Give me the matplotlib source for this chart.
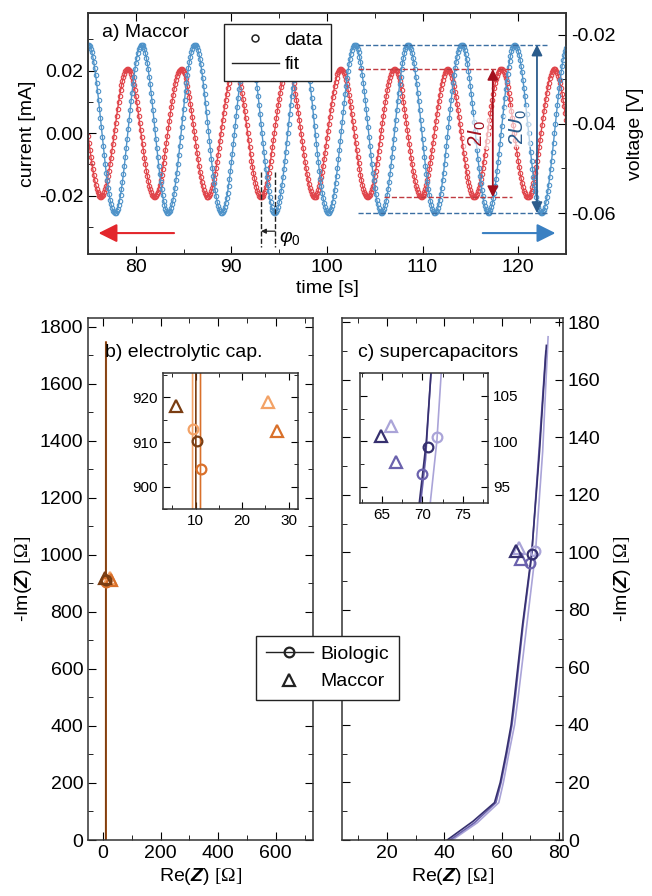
import numpy as np
import matplotlib
matplotlib.use("Agg")
import matplotlib.pyplot as plt
from matplotlib.ticker import MultipleLocator, FormatStrFormatter
from matplotlib.lines import Line2D

plt.rcParams["font.family"] = ["Liberation Sans", "DejaVu Sans"]
plt.rcParams["mathtext.fontset"] = "custom"
plt.rcParams["mathtext.rm"] = "Liberation Serif"
plt.rcParams["mathtext.sf"] = "Liberation Sans"
plt.rcParams["mathtext.it"] = "Liberation Sans:italic"
plt.rcParams["mathtext.bf"] = "Liberation Sans:bold:italic"
plt.rcParams["axes.unicode_minus"] = False
plt.rcParams["axes.linewidth"] = 1.1
plt.rcParams["axes.edgecolor"] = "#333333"

# ---- panel a: sine fit parameters ----
t_start, t_end, t_step = 75.0, 125.0, 0.1
period = 5.58
cur_amp, cur_peak_t = 0.0205, 79.15
volt_mid, volt_amp, volt_peak_t = -0.0411, 0.0189, 80.6

# ---- panel b: electrolytic cap. (Re, -Im) ----
b_line_im = [0, 1745]
b_line_re = {"dark": [9.9, 10.2], "mid": [10.9, 11.2], "light": [9.2, 9.5]}
b_circ = {"dark": (10.2, 910.2), "mid": (11.2, 904.0), "light": (9.45, 913.0)}
b_tri = {"dark": (5.8, 918.0), "mid": (27.5, 912.5), "light": (25.5, 919.0)}
b_cols = {"dark": "#7a3d12", "mid": "#d9702a", "light": "#f3a266"}

# ---- panel c: supercapacitors ----
c_line_re = {
    "dark": [41.0, 50.0, 57.5, 59.5, 61.5, 63.3, 64.5, 67.3, 70.5, 73.2, 75.6],
    "mid": [42.0, 50.5, 58.0, 59.8, 61.8, 63.6, 64.8, 67.5, 70.4, 73.0, 75.4],
    "light": [42.8, 51.5, 59.0, 60.6, 62.5, 64.5, 65.8, 68.8, 71.8, 74.3, 76.2],
}
c_line_im = {
    "dark": [0, 6.5, 13, 20, 30, 40, 50, 75, 100, 135, 172],
    "mid": [0, 6.0, 13, 20, 30, 40, 50, 75, 98, 135, 170],
    "light": [0, 6.0, 13, 20, 30, 40, 50, 75, 100, 135, 175],
}
c_circ = {"dark": (70.7, 99.4), "mid": (70.0, 96.4), "light": (71.8, 100.5)}
c_tri = {"dark": (64.9, 100.6), "mid": (66.8, 97.7), "light": (66.1, 101.7)}
c_cols = {"dark": "#36306f", "mid": "#6b62ad", "light": "#aaa4d8"}

red = "#e0444a"
blue = "#4f93c9"
FS = 14

fig = plt.figure(figsize=(6.52, 8.96), dpi=100)

# ================= panel a =================
ax = fig.add_axes([0.135, 0.7165, 0.733, 0.269])
ax2 = ax.twinx()
t = np.arange(t_start, t_end + 1e-9, t_step)
cur = cur_amp * np.cos(2 * np.pi * (t - cur_peak_t) / period)
volt = volt_mid + volt_amp * np.cos(2 * np.pi * (t - volt_peak_t) / period)
ax.plot(t, cur, color=red, lw=1.0, marker="o", ms=3.2, mfc="none", mew=0.8)
ax2.plot(t, volt, color=blue, lw=1.0, marker="o", ms=3.2, mfc="none", mew=0.8)

ax.set_xlim(75, 125)
ax.set_ylim(-0.0387, 0.0384)
ax2.set_ylim(-0.0692, -0.0151)
ax.xaxis.set_major_locator(MultipleLocator(10))
ax.xaxis.set_minor_locator(MultipleLocator(5))
ax.yaxis.set_major_locator(MultipleLocator(0.02))
ax.yaxis.set_minor_locator(MultipleLocator(0.01))
ax2.yaxis.set_major_locator(MultipleLocator(0.02))
ax2.yaxis.set_minor_locator(MultipleLocator(0.01))
ax.yaxis.set_major_formatter(FormatStrFormatter("%.2f"))
ax2.yaxis.set_major_formatter(FormatStrFormatter("%.2f"))
ax.tick_params(which="both", direction="in", top=True, labelsize=FS)
ax.tick_params(which="major", length=6)
ax.tick_params(which="minor", length=3.5)
ax2.tick_params(which="both", direction="in", labelsize=FS)
ax2.tick_params(which="major", length=6)
ax2.tick_params(which="minor", length=3.5)
ax.set_xlabel("time [s]", fontsize=FS, labelpad=3)
ax.set_ylabel("current [mA]", fontsize=FS, labelpad=2)
ax2.set_ylabel("voltage [V]", fontsize=FS, labelpad=8)

ax2.text(0.03, 0.92, "a) Maccor", transform=ax.transAxes, fontsize=FS,
         va="center", ha="left")

cT = ax.transData
# amplitude guides
ax2.plot([103.2, 119.35], [cur_amp, cur_amp], ls="--", lw=1.0, color="#c03a40", transform=cT)
ax2.plot([106.0, 119.35], [-cur_amp, -cur_amp], ls="--", lw=1.0, color="#c03a40", transform=cT)
ax2.plot([103.2, 123.0], [volt_mid + volt_amp] * 2, ls="--", lw=1.0, color="#3b6fa3")
ax2.plot([103.2, 123.0], [volt_mid - volt_amp] * 2, ls="--", lw=1.0, color="#3b6fa3")
ax2.annotate("", xy=(117.35, cur_amp), xytext=(117.35, -cur_amp), xycoords=cT, textcoords=cT,
             arrowprops=dict(arrowstyle="<|-|>", color="#a3101e", lw=1.3,
                             mutation_scale=16, shrinkA=0, shrinkB=0))
ax2.annotate("", xy=(121.97, volt_mid + volt_amp), xytext=(121.97, volt_mid - volt_amp),
             arrowprops=dict(arrowstyle="<|-|>", color="#2b5c8c", lw=1.3,
                             mutation_scale=16, shrinkA=0, shrinkB=0))
ax2.text(115.7, 0.0, r"2$I_\mathsf{0}$", transform=cT, rotation=90, fontsize=15,
         color="#a3101e", ha="center", va="center",
         bbox=dict(boxstyle="square,pad=0.1", fc="white", ec="none", alpha=0.6))
ax2.text(120.0, 0.002, r"2$U_\mathsf{0}$", transform=cT, rotation=90, fontsize=15,
         color="#2b5c8c", ha="center", va="center",
         bbox=dict(boxstyle="square,pad=0.1", fc="white", ec="none", alpha=0.6))
# direction arrows
ax2.annotate("", xy=(76.1, -0.032), xytext=(84.0, -0.032), xycoords=cT, textcoords=cT,
             arrowprops=dict(arrowstyle="-|>", color="#e3262c", lw=1.5,
                             mutation_scale=28, shrinkA=0, shrinkB=0))
ax2.annotate("", xy=(123.9, -0.032), xytext=(116.3, -0.032), xycoords=cT, textcoords=cT,
             arrowprops=dict(arrowstyle="-|>", color="#3a80c2", lw=1.5,
                             mutation_scale=28, shrinkA=0, shrinkB=0))
# phase shift
for tx in (93.1, 94.55):
    ax2.plot([tx, tx], [-0.0125, -0.0365], ls="--", lw=1.0, color="#222222", transform=cT)
ax2.annotate("", xy=(93.1, -0.0314), xytext=(94.55, -0.0314), xycoords=cT, textcoords=cT,
             arrowprops=dict(arrowstyle="-|>", color="#222222", lw=0.9,
                             mutation_scale=7, shrinkA=0, shrinkB=0))
ax2.text(95.0, -0.0336, r"$\varphi_\mathsf{0}$", transform=cT, fontsize=14,
         ha="left", va="center")

leg_a = ax2.legend(
    handles=[Line2D([], [], ls="none", marker="o", ms=5, mfc="none", mec="#222222", mew=1.1),
             Line2D([], [], color="#222222", lw=1.0)],
    labels=["data", "fit"], loc="upper left", bbox_to_anchor=(0.285, 0.956),
    borderaxespad=0, fontsize=FS, frameon=True, fancybox=False, edgecolor="#222222",
    framealpha=1, handlelength=2.4, borderpad=0.4, labelspacing=0.35, handletextpad=0.3)
leg_a.get_frame().set_linewidth(1.0)


def style_axis(a, xmaj, xmin, ymaj, ymin, size=FS):
    a.xaxis.set_major_locator(MultipleLocator(xmaj))
    a.xaxis.set_minor_locator(MultipleLocator(xmin))
    a.yaxis.set_major_locator(MultipleLocator(ymaj))
    a.yaxis.set_minor_locator(MultipleLocator(ymin))
    a.tick_params(which="both", direction="in", top=True, right=True, labelsize=size)
    a.tick_params(which="major", length=6)
    a.tick_params(which="minor", length=3.5)


zlab_re = r"Re($\mathbf{Z}$) $[\Omega]$"
zlab_im = r"-Im($\mathbf{Z}$) $[\Omega]$"

# ================= panel b =================
axb = fig.add_axes([0.135, 0.0625, 0.345, 0.5825])
for k in ("light", "mid", "dark"):
    axb.plot(b_line_re[k], b_line_im, color=b_cols[k], lw=1.2)
for k in ("light", "mid", "dark"):
    axb.plot(*b_circ[k], ls="none", marker="o", ms=7, mfc="none", mec=b_cols[k], mew=1.6)
    axb.plot(*b_tri[k], ls="none", marker="^", ms=8, mfc="none", mec=b_cols[k], mew=1.6)
axb.set_xlim(-52, 729)
axb.set_ylim(0, 1830)
style_axis(axb, 200, 100, 200, 100)
axb.set_xlabel(zlab_re, fontsize=FS, labelpad=3)
axb.set_ylabel(zlab_im, fontsize=FS, labelpad=4)
axb.text(0.075, 0.935, "b) electrolytic cap.", transform=axb.transAxes, fontsize=FS,
         va="center", ha="left")

axbi = fig.add_axes([0.250, 0.432, 0.207, 0.1518])
for k in ("light", "mid", "dark"):
    axbi.plot(b_line_re[k], b_line_im, color=b_cols[k], lw=1.2)
for k in ("light", "mid", "dark"):
    axbi.plot(*b_circ[k], ls="none", marker="o", ms=7, mfc="none", mec=b_cols[k], mew=1.6)
    axbi.plot(*b_tri[k], ls="none", marker="^", ms=8, mfc="none", mec=b_cols[k], mew=1.6)
axbi.set_xlim(3, 32)
axbi.set_ylim(895, 925.5)
style_axis(axbi, 10, 5, 10, 5, size=11)
axbi.tick_params(which="major", length=5)
axbi.tick_params(which="minor", length=3)

# ================= panel c =================
axc = fig.add_axes([0.5245, 0.0625, 0.339, 0.5825])
for k in ("light", "mid", "dark"):
    axc.plot(c_line_re[k], c_line_im[k], color=c_cols[k], lw=1.2)
for k in ("light", "mid", "dark"):
    axc.plot(*c_circ[k], ls="none", marker="o", ms=7, mfc="none", mec=c_cols[k], mew=1.6)
    axc.plot(*c_tri[k], ls="none", marker="^", ms=8, mfc="none", mec=c_cols[k], mew=1.6)
axc.set_xlim(4.3, 81.4)
axc.set_ylim(0, 181.5)
style_axis(axc, 20, 10, 20, 10)
axc.tick_params(labelleft=False, labelright=True)
axc.yaxis.set_label_position("right")
axc.set_xlabel(zlab_re, fontsize=FS, labelpad=3)
axc.set_ylabel(zlab_im, fontsize=FS, labelpad=8, rotation=90)
axc.text(0.072, 0.935, "c) supercapacitors", transform=axc.transAxes, fontsize=FS,
         va="center", ha="left")

axci = fig.add_axes([0.552, 0.4386, 0.1963, 0.145])
for k in ("light", "mid", "dark"):
    axci.plot(c_line_re[k], c_line_im[k], color=c_cols[k], lw=1.2)
for k in ("light", "mid", "dark"):
    axci.plot(*c_circ[k], ls="none", marker="o", ms=7, mfc="none", mec=c_cols[k], mew=1.6)
    axci.plot(*c_tri[k], ls="none", marker="^", ms=8, mfc="none", mec=c_cols[k], mew=1.6)
axci.set_xlim(62.3, 78.1)
axci.set_ylim(93.2, 107.5)
style_axis(axci, 5, 2.5, 5, 2.5, size=11)
axci.tick_params(which="major", length=5)
axci.tick_params(which="minor", length=3)
axci.tick_params(labelleft=False, labelright=True)

# shared legend between b and c
leg_bc = fig.legend(
    handles=[Line2D([], [], color="#222222", lw=1.0, marker="o", ms=7, mfc="none", mew=1.6),
             Line2D([], [], ls="none", marker="^", ms=8, mfc="none", mec="#222222", mew=1.6)],
    labels=["Biologic", "Maccor"], loc="upper left", bbox_to_anchor=(0.393, 0.2905),
    borderaxespad=0, fontsize=FS, frameon=True, fancybox=False, edgecolor="#222222",
    framealpha=1, handlelength=2.4, borderpad=0.5, labelspacing=0.5, handletextpad=0.4)
leg_bc.get_frame().set_linewidth(1.0)

fig.savefig("out.png", dpi=100)
